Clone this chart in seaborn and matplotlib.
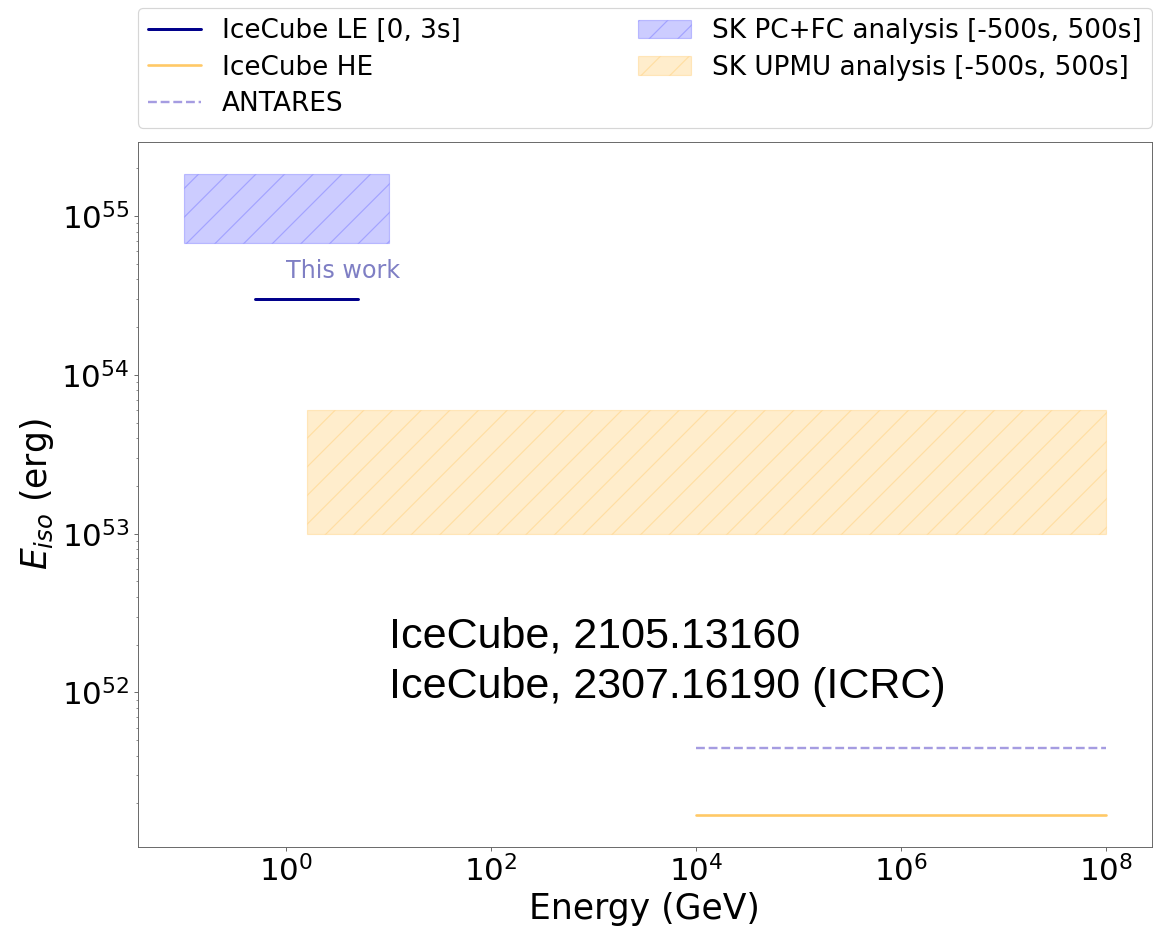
import matplotlib
matplotlib.use("Agg")
import matplotlib.pyplot as plt
import matplotlib.ticker as mticker
import seaborn as sns
import pandas as pd

# ---- data ----
line_labels = ["IceCube LE [0, 3s]", "IceCube HE", "ANTARES"]
line_xmin = [0.5, 1e4, 1e4]
line_xmax = [5.0, 1e8, 1e8]
line_eiso = [3.0e54, 1.7e51, 4.5e51]

band_labels = ["SK PC+FC analysis [-500s, 500s]", "SK UPMU analysis [-500s, 500s]"]
band_xmin = [0.1, 1.6]
band_xmax = [10.0, 1e8]
band_low = [6.8e54, 1.0e53]
band_high = [1.85e55, 6.0e53]

note_text = "This work"
note_x, note_y = 1.0, 4.1e54
ref_text = "IceCube, 2105.13160\nIceCube, 2307.16190 (ICRC)"
ref_x, ref_y = 10.0, 3.0e52

# ---- styles ----
line_styles = [
    dict(color="darkblue", lw=2.5, ls="-", alpha=1.0),
    dict(color="orange", lw=2.2, ls="-", alpha=0.6),
    dict(color="slateblue", lw=2.0, ls="--", alpha=0.6),
]
band_styles = [dict(color="blue", alpha=0.2), dict(color="orange", alpha=0.2)]

DPI = 86
sns.set_style("ticks")
plt.rcParams["font.family"] = ["DejaVu Sans"]
plt.rcParams["axes.edgecolor"] = "#666666"
plt.rcParams["text.color"] = "black"
plt.rcParams["axes.labelcolor"] = "black"

fig = plt.figure(figsize=(1153 / DPI, 932 / DPI), dpi=DPI)
ax = fig.add_axes([137.7 / 1153, 1 - 846.7 / 932, (1152 - 137.7) / 1153, (846.7 - 141.7) / 932])

for lab, x0, x1, v, st in zip(line_labels, line_xmin, line_xmax, line_eiso, line_styles):
    df = pd.DataFrame({"E": [x0, x1], "Eiso": [v, v]})
    sns.lineplot(data=df, x="E", y="Eiso", ax=ax, label=lab, color=st["color"],
                 lw=st["lw"], ls=st["ls"], alpha=st["alpha"])

for lab, x0, x1, lo, hi, st in zip(band_labels, band_xmin, band_xmax, band_low, band_high, band_styles):
    ax.fill_between([x0, x1], [lo, lo], [hi, hi], color=st["color"], alpha=st["alpha"],
                    hatch="/", label=lab, lw=1)

ax.set_xscale("log")
ax.set_yscale("log")
ax.set_xticks([1e0, 1e2, 1e4, 1e6, 1e8])
ax.xaxis.set_minor_locator(mticker.NullLocator())
ax.tick_params(axis="both", which="both", colors="#666666", labelcolor="black")
ax.tick_params(axis="both", which="major", labelsize=26)

ax.set_xlabel("Energy (GeV)", fontsize=29)
ax.set_ylabel("$E_{iso}$ (erg)", fontsize=29)

ax.text(note_x, note_y, note_text, color="darkblue", alpha=0.5, fontsize=20)
ax.text(ref_x, ref_y, ref_text, fontsize=36, family=["Liberation Sans"], va="top",
        linespacing=1.32, color="black")

leg = ax.legend(loc="lower left", bbox_to_anchor=(0, 1.02, 1, 0.2), mode="expand",
                ncol=2, fontsize=22, borderaxespad=0, frameon=True, labelspacing=0.4)
for t in leg.get_texts():
    t.set_color("black")

fig.savefig("out.png", dpi=DPI)
